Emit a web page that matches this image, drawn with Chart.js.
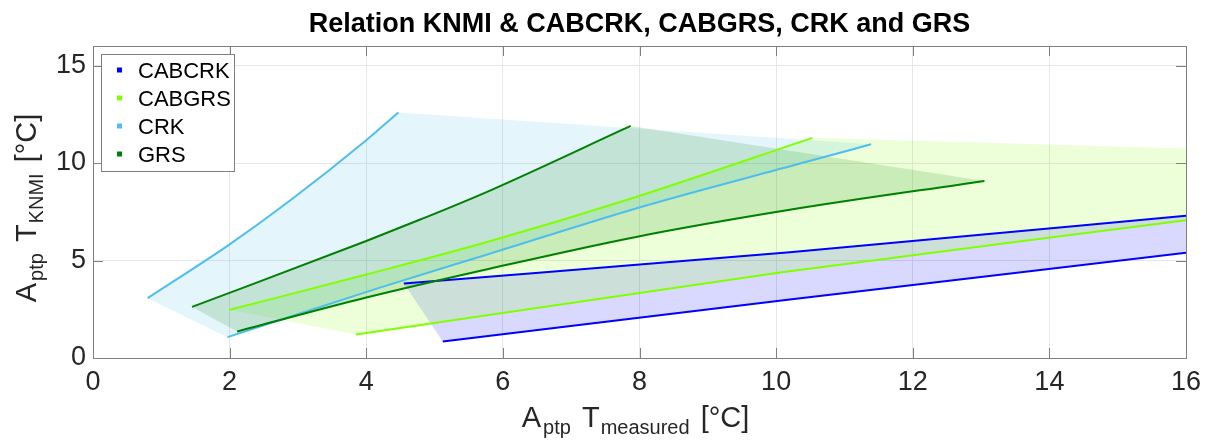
<!DOCTYPE html>
<html>
<head>
<meta charset="utf-8">
<script src="https://cdn.jsdelivr.net/npm/chart.js@4.4.0/dist/chart.umd.min.js"></script>
<style>
  html, body { margin: 0; padding: 0; background: #ffffff; }
  #wrap { width: 1205px; height: 442px; position: relative; }
</style>
</head>
<body>
<div id="wrap"><canvas id="chart"></canvas></div>
<script>
// ---- data ----------------------------------------------------------------
const seriesNames  = ['CABCRK', 'CABGRS', 'CRK', 'GRS'];
const seriesColors = ['#0000ff', '#80ff00', '#4dbeee', '#008000'];
const fillColors   = ['rgba(0,0,255,0.15)', 'rgba(128,255,0,0.15)', 'rgba(77,190,238,0.15)', 'rgba(0,128,0,0.15)'];

const xTicks = [0, 2, 4, 6, 8, 10, 12, 14, 16];
const yTicks = [0, 5, 10, 15];

// upper / lower bound of each relation (x = measured amplitude, y = KNMI amplitude)
const cabcrkUpperX = [4.55, 10.2, 16.0, 22.0];
const cabcrkUpperY = [3.82, 5.42, 7.30, 9.28];
const cabcrkLowerX = [5.12, 10.2, 16.0, 22.0];
const cabcrkLowerY = [0.85, 3.00, 5.40, 7.90];

const cabgrsUpperX = [2.00, 4.00, 5.82, 7.95, 10.53];
const cabgrsUpperY = [2.47, 4.28, 6.00, 8.26, 11.29];
const cabgrsLowerX = [3.85, 10.06, 16.0, 22.3];
const cabgrsLowerY = [1.20, 4.38, 7.07, 10.11];

const crkUpperX = [0.80, 2.00, 2.89, 4.00, 4.47];
const crkUpperY = [3.07, 5.83, 8.09, 11.17, 12.59];
const crkLowerX = [1.97, 4.20, 5.82, 7.95, 10.35, 11.39];
const crkLowerY = [1.07, 3.61, 5.36, 7.67, 9.97, 10.96];

const grsUpperX = [1.45, 4.00, 4.79, 5.82, 7.87];
const grsUpperY = [2.62, 6.00, 7.10, 8.60, 11.90];
const grsLowerX = [2.11, 4.00, 5.82, 7.95, 10.20, 13.05];
const grsLowerY = [1.36, 3.10, 4.59, 6.21, 7.60, 9.08];

// ---- helpers --------------------------------------------------------------
const zip = (xs, ys) => xs.map((x, i) => ({ x, y: ys[i] }));
const band = (ux, uy, lx, ly) => zip(ux, uy).concat(zip(lx, ly).reverse());

const bounds = [
  [cabcrkUpperX, cabcrkUpperY, cabcrkLowerX, cabcrkLowerY],
  [cabgrsUpperX, cabgrsUpperY, cabgrsLowerX, cabgrsLowerY],
  [crkUpperX, crkUpperY, crkLowerX, crkLowerY],
  [grsUpperX, grsUpperY, grsLowerX, grsLowerY]
];

const FONT = "'Liberation Sans', Arial, Helvetica, sans-serif";

const datasets = [];
// shaded bands, drawn underneath the lines
bounds.forEach((b, i) => {
  datasets.push({
    label: seriesNames[i] + ' band',
    data: band(b[0], b[1], b[2], b[3]),
    fill: 'shape',
    backgroundColor: fillColors[i],
    borderWidth: 0,
    pointRadius: 0,
    tension: 0,
    order: 20 - i
  });
});
// bounding lines
bounds.forEach((b, i) => {
  [[b[0], b[1]], [b[2], b[3]]].forEach(([xs, ys], k) => {
    datasets.push({
      label: seriesNames[i] + (k ? ' lower' : ' upper'),
      data: zip(xs, ys),
      fill: false,
      borderColor: seriesColors[i],
      borderWidth: 2,
      pointRadius: 0,
      cubicInterpolationMode: 'monotone',
      order: 8 - i
    });
  });
});

// ---- decorations: title, axis labels with subscripts, box, inner ticks, legend
function drawRich(ctx, parts, mainSize, subSize, subShift) {
  let w = 0;
  parts.forEach(p => {
    ctx.font = (p.sub ? subSize : mainSize) + 'px ' + FONT;
    p.w = ctx.measureText(p.t).width + (p.gap || 0);
    w += p.w;
  });
  let x = -w / 2;
  parts.forEach(p => {
    ctx.font = (p.sub ? subSize : mainSize) + 'px ' + FONT;
    ctx.fillText(p.t, x, p.sub ? subShift : 0);
    x += p.w;
  });
}

const decorations = {
  id: 'decorations',
  afterDatasetsDraw(chart) {
    const { ctx, chartArea: a, scales: { x, y } } = chart;
    ctx.save();
    ctx.strokeStyle = '#808080';
    ctx.lineWidth = 1;
    ctx.beginPath();
    xTicks.forEach(v => {
      const px = Math.round(x.getPixelForValue(v)) + 0.5;
      ctx.moveTo(px, a.bottom); ctx.lineTo(px, a.bottom - 10);
      ctx.moveTo(px, a.top); ctx.lineTo(px, a.top + 10);
    });
    yTicks.forEach(v => {
      const py = Math.round(y.getPixelForValue(v)) + 0.5;
      ctx.moveTo(a.left, py); ctx.lineTo(a.left + 10, py);
      ctx.moveTo(a.right, py); ctx.lineTo(a.right - 10, py);
    });
    ctx.stroke();
    ctx.strokeRect(Math.round(a.left) + 0.5, Math.round(a.top) + 0.5,
                   Math.round(a.right - a.left), Math.round(a.bottom - a.top));
    ctx.restore();
  },
  afterDraw(chart) {
    const { ctx, chartArea: a } = chart;
    const cx = (a.left + a.right) / 2;
    const cy = (a.top + a.bottom) / 2;
    ctx.save();
    ctx.fillStyle = '#000000';
    ctx.textBaseline = 'alphabetic';

    // title
    ctx.font = 'bold 27px ' + FONT;
    ctx.textAlign = 'center';
    ctx.fillText('Relation KNMI & CABCRK, CABGRS, CRK and GRS', cx, 32);

    ctx.textAlign = 'left';
    ctx.fillStyle = '#262626';
    // x axis title
    ctx.save();
    ctx.translate(cx - 4, 427);
    drawRich(ctx, [{ t: 'A', gap: 2 }, { t: 'ptp', sub: true, gap: 3 }, { t: ' T', gap: 1 },
                   { t: 'measured', sub: true, gap: 3 }, { t: ' [°C]' }], 29, 20, 7);
    ctx.restore();
    // y axis title
    ctx.save();
    ctx.translate(36, cy + 6);
    ctx.rotate(-Math.PI / 2);
    drawRich(ctx, [{ t: 'A', gap: 2 }, { t: 'ptp', sub: true, gap: 3 }, { t: ' T', gap: 1 },
                   { t: 'KNMI', sub: true, gap: 3 }, { t: ' [°C]' }], 29, 20, 7);
    ctx.restore();

    // legend box
    const lx = 101.5, ly = 54.5, lw = 133, lh = 117;
    ctx.fillStyle = '#ffffff';
    ctx.fillRect(lx, ly, lw, lh);
    ctx.strokeStyle = '#808080';
    ctx.lineWidth = 1;
    ctx.strokeRect(lx, ly, lw, lh);
    ctx.font = '22px ' + FONT;
    ctx.textBaseline = 'middle';
    seriesNames.forEach((name, i) => {
      const rowY = 71.5 + i * 28;
      ctx.fillStyle = seriesColors[i];
      ctx.fillRect(117, rowY - 4, 5, 5);
      ctx.fillStyle = '#000000';
      ctx.fillText(name, 138, rowY);
    });
    ctx.restore();
  }
};

new Chart(document.getElementById('chart'), {
  type: 'line',
  data: { datasets },
  plugins: [decorations],
  options: {
    responsive: true,
    maintainAspectRatio: false,
    animation: false,
    layout: { padding: { top: 46, right: 19, left: 0, bottom: 0 } },
    plugins: {
      legend: { display: false },
      tooltip: { enabled: false },
      title: { display: false }
    },
    scales: {
      x: {
        type: 'linear',
        min: 0, max: 16,
        afterFit: s => { s.height = 84; s.paddingLeft = 0; s.paddingRight = 0; },
        afterBuildTicks: s => { s.ticks = xTicks.map(v => ({ value: v })); },
        ticks: { color: '#262626', font: { family: FONT, size: 27 }, padding: 8, maxRotation: 0 },
        grid: { color: '#e6e6e6', drawTicks: false },
        border: { display: false }
      },
      y: {
        type: 'linear',
        min: 0, max: 16,
        afterFit: s => { s.width = 93; s.paddingTop = 0; s.paddingBottom = 0; },
        afterBuildTicks: s => { s.ticks = yTicks.map(v => ({ value: v })); },
        ticks: { color: '#262626', font: { family: FONT, size: 27 }, padding: 7 },
        grid: { color: '#e6e6e6', drawTicks: false },
        border: { display: false }
      }
    }
  }
});
</script>
</body>
</html>
